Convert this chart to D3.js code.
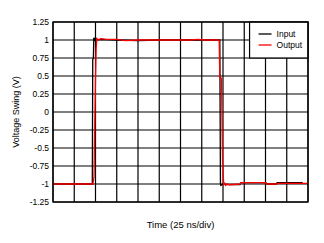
<!DOCTYPE html>
<html>
<head>
<meta charset="utf-8">
<script src="https://cdn.jsdelivr.net/npm/d3@7"></script>
<style>
  body { margin: 0; background: #fff; }
  text { font-family: "Liberation Sans", Arial, sans-serif; }
</style>
</head>
<body>
<svg id="chart" width="324" height="243"></svg>
<script>
// time in divisions (25 ns/div), voltage in V
const inputT = [0, 1.85, 1.87, 1.9, 1.92, 1.97, 2.0, 2.05, 2.2, 3.0, 4.0, 5.0, 6.0, 7.0, 7.85, 7.88, 7.9, 8.0, 8.2, 8.8, 8.85, 10.0, 10.1, 10.5, 10.55, 11.75];
const inputV = [-1, -1, 0.73, 0.75, 1.03, 1.0, 1.03, 1.0, 1.01, 1.0, 0.99, 1.0, 1.0, 1.0, 1.0, -1.0, -1.02, -1.0, -1.01, -1.01, -0.98, -0.98, -1.0, -1.0, -0.98, -0.98];

const outputT = [0, 1.88, 1.93, 1.95, 2.0, 2.03, 2.06, 2.15, 2.25, 2.5, 3.0, 3.4, 4.0, 6.5, 6.8, 7.1, 7.82, 7.85, 7.93, 7.98, 8.0, 8.03, 8.08, 8.12, 8.2, 8.3, 8.8, 8.85, 10.0, 10.05, 10.55, 10.6, 12];
const outputV = [-1, -1, -0.9, -0.45, 0.45, 0.87, 1.02, 1.0, 1.02, 1.01, 1.01, 0.99, 1.0, 1.0, 1.01, 1.0, 1.0, 0.47, 0.47, -0.73, -0.75, -1.01, -0.99, -1.02, -1.0, -1.01, -1.0, -0.98, -0.98, -1.0, -1.0, -0.99, -0.99];

const yTicks = [1.25, 1, 0.75, 0.5, 0.25, 0, -0.25, -0.5, -0.75, -1, -1.25];
const xTicks = d3.range(0, 13);
const seriesNames = ["Input", "Output"];
const seriesColors = ["#000000", "#ff0000"];

const margin = { left: 53, top: 22, right: 16, bottom: 41 };
const svg = d3.select("#chart");
const W = +svg.attr("width"), H = +svg.attr("height");
const w = W - margin.left - margin.right, h = H - margin.top - margin.bottom;

const x = d3.scaleLinear().domain([0, 12]).range([0, w]);
const y = d3.scaleLinear().domain([-1.25, 1.25]).range([h, 0]);

const g = svg.append("g").attr("transform", `translate(${margin.left},${margin.top})`);

// grid
g.selectAll(".vg").data(xTicks).enter().append("line")
  .attr("x1", d => x(d)).attr("x2", d => x(d))
  .attr("y1", 0).attr("y2", h)
  .attr("stroke", "#000").attr("stroke-width", 1.2);
g.selectAll(".hg").data(yTicks).enter().append("line")
  .attr("x1", 0).attr("x2", w)
  .attr("y1", d => y(d)).attr("y2", d => y(d))
  .attr("stroke", "#000").attr("stroke-width", 1.2);

// y tick labels
g.selectAll(".yl").data(yTicks).enter().append("text")
  .attr("x", -4).attr("y", d => y(d)).attr("dy", "0.35em")
  .attr("text-anchor", "end").attr("font-size", 8.5).attr("fill", "#000")
  .text(d => d);

// traces
const line = d3.line().x(d => x(d[0])).y(d => y(d[1]));
const series = [d3.zip(inputT, inputV), d3.zip(outputT, outputV)];
series.forEach((s, i) => {
  g.append("path").datum(s).attr("d", line)
    .attr("fill", "none").attr("stroke", seriesColors[i]).attr("stroke-width", 1.3);
});

// legend
const lg = g.append("g").attr("transform", `translate(${x(9.25)},0)`);
lg.append("rect").attr("x", 0).attr("y", 0).attr("width", w - x(9.25)).attr("height", 36)
  .attr("fill", "#fff").attr("stroke", "#000").attr("stroke-width", 1.2);
seriesNames.forEach((n, i) => {
  const yy = 12 + i * 11;
  lg.append("line").attr("x1", 9).attr("x2", 22).attr("y1", yy).attr("y2", yy)
    .attr("stroke", seriesColors[i]).attr("stroke-width", 1.3);
  lg.append("text").attr("x", 27).attr("y", yy).attr("dy", "0.35em")
    .attr("font-size", 8.5).attr("fill", "#000").text(n);
});

// border
g.append("rect").attr("width", w).attr("height", h)
  .attr("fill", "none").attr("stroke", "#000").attr("stroke-width", 1.3);

// axis titles
svg.append("text").attr("x", margin.left + w / 2).attr("y", 228)
  .attr("text-anchor", "middle").attr("font-size", 9.5).text("Time (25 ns/div)");
svg.append("text").attr("transform", `translate(15.5,${margin.top + h / 2}) rotate(-90)`)
  .attr("text-anchor", "middle").attr("dy", "0.35em").attr("font-size", 9).text("Voltage Swing (V)");
</script>
</body>
</html>
